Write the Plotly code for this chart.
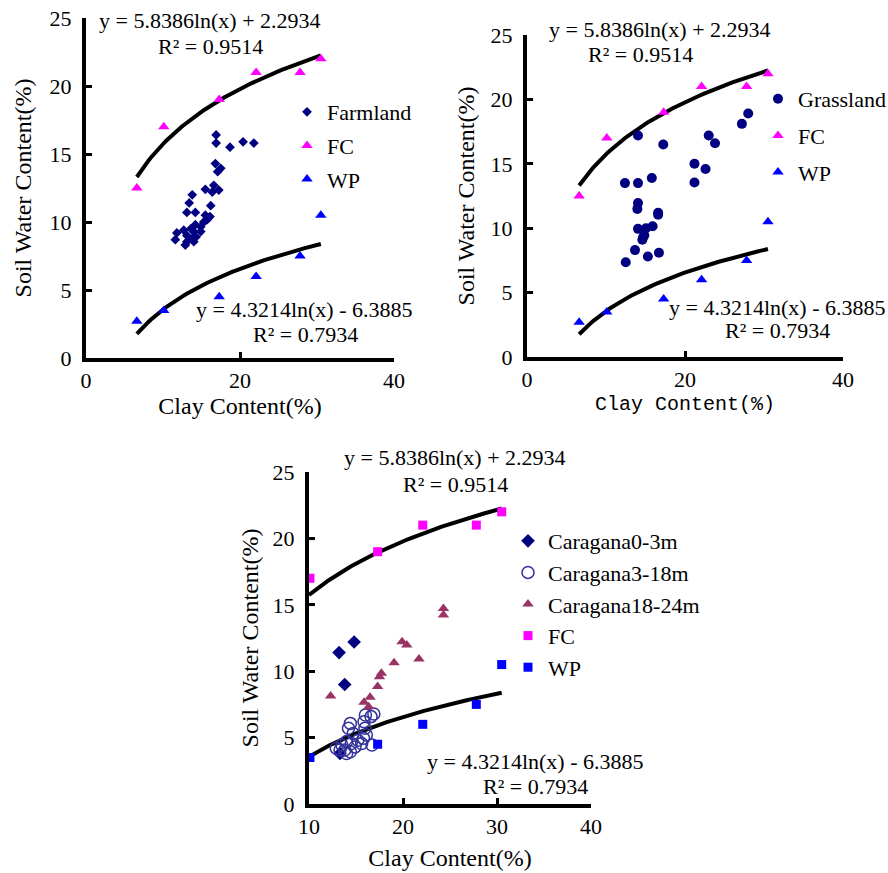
import numpy as np
import plotly.graph_objects as go

W, H = 888, 873

# ---------------- data ----------------
fc_clay = [6.6, 10.1, 17.3, 22.1, 27.8, 30.5]
fc_swc = [12.5, 17.0, 19.0, 21.0, 21.0, 22.0]
wp_clay = [6.6, 10.1, 17.3, 22.1, 27.8, 30.5]
wp_swc = [2.7, 3.5, 4.5, 6.0, 7.5, 10.5]

fc_coef = (5.8386, 2.2934)
wp_coef = (4.3214, -6.3885)

farm_clay = [16.9, 16.9, 18.7, 20.4, 21.8, 16.8, 17.5, 17.1, 16.6, 15.5, 16.4, 17.25,
             13.8, 13.4, 16.2, 13.1, 14.2, 15.5, 15.9, 16.1, 15.7, 15.3, 14.2, 14.9,
             13.6, 12.7, 14.0, 14.9, 11.8, 13.1, 13.8, 14.3, 11.6, 13.1, 14.0, 12.9]
farm_swc = [16.4, 15.8, 15.5, 15.9, 15.8, 14.3, 13.95, 13.7, 12.7, 12.4, 12.2, 12.35,
            12.0, 11.4, 11.2, 10.7, 10.7, 10.5, 10.3, 10.4, 10.15, 10.0, 9.8, 9.65,
            9.5, 9.4, 9.3, 9.3, 9.2, 9.0, 8.8, 8.9, 8.7, 8.55, 8.55, 8.3]

grass_clay = [28.0, 27.2, 14.05, 17.25, 23.0, 23.8, 21.2, 22.6, 21.2, 12.4, 14.05, 15.8,
              14.05, 13.97, 16.6, 16.6, 14.05, 15.06, 15.9, 14.85, 14.6, 14.7, 13.67,
              15.3, 16.7, 12.5]
grass_swc = [18.9, 18.1, 17.2, 16.5, 17.2, 16.6, 15.0, 14.6, 13.55, 13.5, 13.5, 13.9,
             11.95, 11.5, 11.2, 11.05, 9.95, 10.0, 10.15, 9.45, 9.1, 9.3, 8.3,
             7.8, 8.1, 7.35]

car1_clay = [14.8, 13.2, 13.8, 13.3]
car1_swc = [12.2, 11.4, 9.0, 3.8]

car2_clay = [16.9, 16.6, 16.0, 15.85, 14.4, 14.2, 15.96, 16.1, 15.8, 14.7, 15.2, 14.0,
             14.5, 13.5, 12.9, 13.8, 14.4, 14.9, 15.6, 16.7, 13.3, 14.0]
car2_swc = [6.78, 6.58, 6.7, 6.2, 6.07, 5.7, 5.7, 5.2, 4.95, 5.3, 4.8, 4.7,
            4.55, 4.44, 4.2, 4.07, 3.94, 4.3, 4.55, 4.44, 4.07, 3.8]

car3_clay = [24.3, 24.3, 19.9, 20.4, 21.7, 19.05, 17.7, 17.5, 17.3, 12.3, 16.5, 15.85, 16.35]
car3_swc = [14.73, 14.23, 12.22, 11.97, 10.92, 10.64, 9.84, 9.59, 8.84, 8.13, 8.03, 7.66, 7.33]

# ---------------- styling ----------------
SERIF = "Times New Roman, Liberation Serif, serif"
MONO = "Liberation Mono, Courier New, monospace"
NAVY, MAG, BLUE, MAROON, OPEN = "#000080", "#FF00FF", "#0000FF", "#993366", "#333399"


def px_dom_x(a, b):
    return [a / W, b / W]


def px_dom_y(top, bottom):
    return [1 - bottom / H, 1 - top / H]


fig = go.Figure()


def trend(coef, x0, x1):
    xs = np.linspace(x0, x1, 120)
    return xs, coef[0] * np.log(xs) + coef[1]


def add_panel(idx, main, fc_sym, xmin):
    xa = "x" if idx == 1 else f"x{idx}"
    ya = "y" if idx == 1 else f"y{idx}"
    lg = "legend" if idx == 1 else f"legend{idx}"
    for coef in (fc_coef, wp_coef):
        lo = max(xmin, min(fc_clay))
        xs, ys = trend(coef, lo, max(fc_clay))
        fig.add_trace(go.Scatter(x=xs, y=ys, mode="lines", line=dict(color="black", width=4),
                                 showlegend=False, xaxis=xa, yaxis=ya, hoverinfo="skip"))
    for (name, xs, ys, sym, color, size, filled) in main:
        fig.add_trace(go.Scatter(
            x=xs, y=ys, mode="markers", name=name, xaxis=xa, yaxis=ya, legend=lg,
            legendgroup=f"{idx}{name}", cliponaxis=False,
            marker=dict(symbol=sym, size=size, color=color if filled else "rgba(0,0,0,0)",
                        line=dict(width=0 if filled else 1.5, color=color))))
    fcx = [x for x in fc_clay if x >= xmin]
    fcy = [y for x, y in zip(fc_clay, fc_swc) if x >= xmin]
    wpx = [x for x in wp_clay if x >= xmin]
    wpy = [y for x, y in zip(wp_clay, wp_swc) if x >= xmin]
    fsize = 9 if fc_sym == "square" else 10
    fig.add_trace(go.Scatter(x=fcx, y=fcy, mode="markers", name="FC", xaxis=xa, yaxis=ya,
                             legend=lg, legendgroup=f"{idx}FC", cliponaxis=False,
                             marker=dict(symbol=fc_sym, size=fsize, color=MAG)))
    fig.add_trace(go.Scatter(x=wpx, y=wpy, mode="markers", name="WP", xaxis=xa, yaxis=ya,
                             legend=lg, legendgroup=f"{idx}WP", cliponaxis=False,
                             marker=dict(symbol=fc_sym, size=fsize, color=BLUE)))


add_panel(1, [("Farmland", farm_clay, farm_swc, "diamond", NAVY, 7.5, True)], "triangle-up", 0)
add_panel(2, [("Grassland", grass_clay, grass_swc, "circle", NAVY, 10, True)], "triangle-up", 0)
add_panel(3, [("Caragana0-3m", car1_clay, car1_swc, "diamond", NAVY, 10.5, True),
              ("Caragana3-18m", car2_clay, car2_swc, "circle", OPEN, 12, False),
              ("Caragana18-24m", car3_clay, car3_swc, "triangle-up", MAROON, 10, True)],
          "square", 10)

axis_common = dict(showline=True, linewidth=4, linecolor="black", ticks="inside", ticklen=6,
                   tickwidth=3, tickcolor="black", showgrid=False, zeroline=False,
                   tickfont=dict(family=SERIF, size=22, color="black"), automargin=False)

title_font = dict(family=SERIF, size=24, color="black")

fig.update_layout(
    xaxis=dict(domain=px_dom_x(86, 394), range=[0, 40], dtick=20, anchor="y",
               title=dict(text="Clay Content(%)", font=title_font, standoff=6), **axis_common),
    yaxis=dict(domain=px_dom_y(18, 358), range=[0, 25], dtick=5, anchor="x",
               ticklabelstandoff=6,
               title=dict(text="Soil Water Content(%)", font=title_font, standoff=12), **axis_common),
    xaxis2=dict(domain=px_dom_x(527, 843), range=[0, 40], dtick=20, anchor="y2",
                title=dict(text="Clay Content(%)", font=dict(family=MONO, size=20, color="black"),
                           standoff=6), **axis_common),
    yaxis2=dict(domain=px_dom_y(35, 357), range=[0, 25], dtick=5, anchor="x2",
                ticklabelstandoff=6,
                title=dict(text="Soil Water Content(%)", font=title_font, standoff=10), **axis_common),
    xaxis3=dict(domain=px_dom_x(309, 591), range=[10, 40], dtick=10, anchor="y3",
                title=dict(text="Clay Content(%)", font=title_font, standoff=12), **axis_common),
    yaxis3=dict(domain=px_dom_y(472, 804), range=[0, 25], dtick=5, anchor="x3",
                ticklabelstandoff=6,
                title=dict(text="Soil Water Content(%)", font=title_font, standoff=8), **axis_common),
)

leg_common = dict(font=dict(family=SERIF, size=22, color="black"), bgcolor="rgba(0,0,0,0)",
                  xanchor="left", yanchor="top", borderwidth=0, itemclick=False)
fig.update_layout(
    legend=dict(x=287 / W, y=1 - 91 / H, tracegroupgap=2, **leg_common),
    legend2=dict(x=758 / W, y=1 - 78 / H, tracegroupgap=5, **leg_common),
    legend3=dict(x=508 / W, y=1 - 520 / H, tracegroupgap=0, **leg_common),
)

# equation annotations (pixel centres)
eqs = [
    ("y = 5.8386ln(x) + 2.2934", 210, 20), ("R² = 0.9514", 210, 46),
    ("y = 4.3214ln(x) - 6.3885", 304, 309), ("R² = 0.7934", 305, 334),
    ("y = 5.8386ln(x) + 2.2934", 660, 30), ("R² = 0.9514", 640, 54),
    ("y = 4.3214ln(x) - 6.3885", 777, 307), ("R² = 0.7934", 777, 330),
    ("y = 5.8386ln(x) + 2.2934", 455, 457), ("R² = 0.9514", 455, 484),
    ("y = 4.3214ln(x) - 6.3885", 535, 761), ("R² = 0.7934", 535, 786),
]
for text, cx, cy in eqs:
    fig.add_annotation(text=text, x=cx / W, y=1 - cy / H, xref="paper", yref="paper",
                       xanchor="center", yanchor="middle", showarrow=False,
                       font=dict(family=SERIF, size=22, color="black"))

fig.update_layout(width=W, height=H, margin=dict(l=0, r=0, t=0, b=0, autoexpand=False),
                  paper_bgcolor="white", plot_bgcolor="white", showlegend=True)

fig.write_html("out.html")
